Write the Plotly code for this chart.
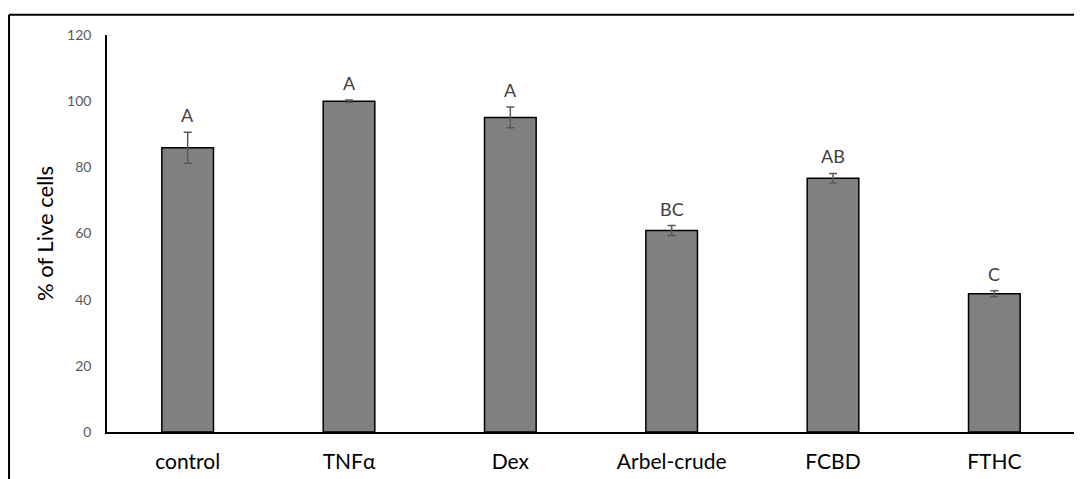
import plotly.graph_objects as go

categories = ["control", "TNFα", "Dex", "Arbel-crude", "FCBD", "FTHC"]
live_pct = [85.9, 100.0, 95.1, 60.9, 76.7, 41.8]
err = [4.7, 0.35, 3.1, 1.5, 1.45, 0.9]
letters = ["A", "A", "A", "BC", "AB", "C"]
y_ticks = [0, 20, 40, 60, 80, 100, 120]

FONT = "Lato, 'Open Sans', sans-serif"

fig = go.Figure()
fig.add_trace(go.Bar(
    x=categories, y=live_pct,
    marker=dict(color="#808080", line=dict(color="#000000", width=1.5)),
    error_y=dict(type="data", array=err, visible=True, color="#595959",
                 thickness=1.5, width=4),
    width=0.32,
))

for c, v, e, t in zip(categories, live_pct, err, letters):
    fig.add_annotation(x=c, y=v + e, text=t, showarrow=False,
                       yanchor="bottom", yshift=4,
                       font=dict(family=FONT, size=18, color="#404040"))

# outer frame (top and left edges visible)
fig.add_shape(type="line", xref="paper", yref="paper",
              x0=-0.1012, x1=1.01, y0=1.051, y1=1.051,
              line=dict(color="#000000", width=2))
fig.add_shape(type="line", xref="paper", yref="paper",
              x0=-0.1012, x1=-0.1012, y0=-0.13, y1=1.051,
              line=dict(color="#000000", width=2))

fig.update_layout(
    width=1074, height=471,
    margin=dict(l=99, r=7, t=27, b=47, autoexpand=False),
    paper_bgcolor="white", plot_bgcolor="white",
    showlegend=False,
    font=dict(family=FONT),
    xaxis=dict(showline=True, linecolor="#000000", linewidth=1.5,
               ticks="", showgrid=False, automargin=False,
               ticklabelstandoff=10,
               tickfont=dict(family=FONT, size=21, color="#000000")),
    yaxis=dict(range=[0, 120], tickvals=y_ticks, showline=True,
               linecolor="#000000", linewidth=1.5, ticks="",
               showgrid=False, zeroline=False, automargin=False,
               tickfont=dict(family=FONT, size=14, color="#595959"),
               ticklabelstandoff=11,
               title=dict(text="% of Live cells", standoff=7,
                          font=dict(family=FONT, size=22, color="#000000"))),
)

fig.write_html("out.html")
